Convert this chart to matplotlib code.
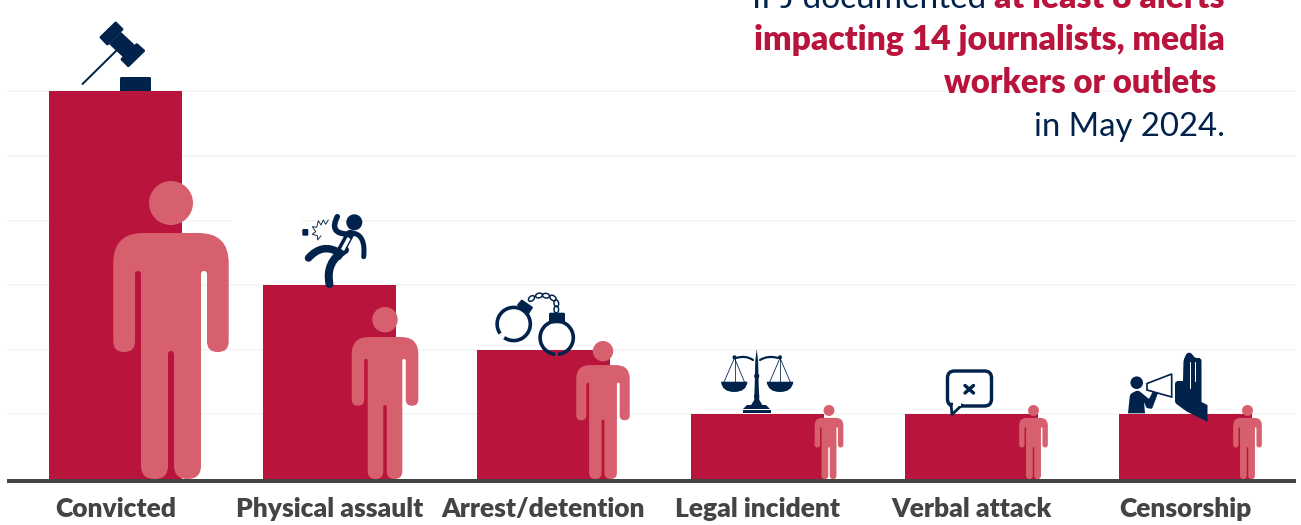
import matplotlib
matplotlib.use('Agg')
import numpy as np
import matplotlib.pyplot as plt
from matplotlib.path import Path
from matplotlib.patches import PathPatch, Circle, Rectangle, Ellipse, FancyBboxPatch, Arc, Polygon

categories = ['Convicted', 'Physical assault', 'Arrest/detention', 'Legal incident', 'Verbal attack', 'Censorship']
journalists = [6, 3, 2, 1, 1, 1]
# pictogram next to each bar: centre x and height in pixels
person_x = [171, 385, 603, 829, 1033.5, 1247.5]
person_h = [298, 172, 138, 74, 74, 74]

RED = '#b9143c'
PINK = '#d6606e'
NAVY = '#00224b'
GREY = '#444444'
W, H = 1301, 525
UNIT = 64.6  # px per journalist
BASE = 481  # centre of the axis line

plt.rcParams['font.family'] = ['Lato', 'DejaVu Sans']
fig = plt.figure(figsize=(W / 100, H / 100), dpi=100)

# bars on a real axis, scaled so that it lines up with the pixels
ax = fig.add_axes([7 / W, (H - BASE) / H, (1296 - 7) / W, BASE / H])
x = np.arange(len(categories))
ax.set_xlim((7 - 115.5) / 214, (1296 - 115.5) / 214)
ax.set_ylim(-2 / UNIT, (BASE - 2) / UNIT)
ax.bar(x, journalists, width=133 / 214, color=RED, zorder=2)
ax.set_yticks(range(1, 7))
ax.set_xticks(x)
ax.set_xticklabels(categories, fontsize=19, fontweight='heavy', color=GREY)
ax.tick_params(axis='x', length=0, pad=11.5)
ax.tick_params(axis='y', length=0, labelleft=False)
ax.grid(axis='y', color='#f6f6f6', linewidth=1.4, zorder=0)
ax.set_axisbelow(True)
for s in ['top', 'left', 'right']:
    ax.spines[s].set_visible(False)
ax.spines['bottom'].set_color(GREY)
ax.spines['bottom'].set_linewidth(4 * 0.72)
ax.spines['bottom'].set_capstyle('butt')

# overlay in pixel coordinates for the icons
ov = fig.add_axes([0, 0, 1, 1])
ov.set_xlim(0, W)
ov.set_ylim(H, 0)
ov.axis('off')
ov.patch.set_alpha(0)


def rounded_path(pts, r):
    # closed outline with corners rounded, radius per corner
    verts, codes = [], []
    n = len(pts)
    for i in range(n):
        p = np.array(pts[i], float)
        a = np.array(pts[i - 1], float)
        b = np.array(pts[(i + 1) % n], float)
        ra = r[i] if np.ndim(r) else r
        if ra == 0:
            verts.append(p)
            codes.append(Path.LINETO if i else Path.MOVETO)
            continue
        p1 = p + (a - p) / np.linalg.norm(a - p) * ra
        p2 = p + (b - p) / np.linalg.norm(b - p) * ra
        verts += [p1, p, p2]
        codes += [Path.LINETO if i else Path.MOVETO, Path.CURVE3, Path.CURVE3]
    verts.append(verts[0])
    codes.append(Path.CLOSEPOLY)
    return Path(verts, codes)


def blob(pts, r=0, color=NAVY, z=6):
    ov.add_patch(PathPatch(rounded_path(pts, r), fc=color, ec='none', zorder=z))


def stroke(pts, lw, color=NAVY, z=6):
    xs, ys = zip(*pts)
    ov.plot(xs, ys, color=color, lw=lw * 0.72, solid_capstyle='round', solid_joinstyle='round', zorder=z)


def curve(p0, c, p1, lw, color=NAVY, z=6):
    pth = Path([p0, c, p1], [Path.MOVETO, Path.CURVE3, Path.CURVE3])
    ov.add_patch(PathPatch(pth, fc='none', ec=color, lw=lw * 0.72, capstyle='round', zorder=z))


def person(cx, h):
    s = h / 298
    ov.add_patch(Circle((cx, 479 - 276 * s), 22 * s, fc=PINK, ec='none', zorder=5))
    out = [(-57.7, 246), (57.7, 246), (57.7, 127), (36, 127), (36, 208), (30, 208), (30, 0),
           (3, 0), (3, 128), (-3, 128), (-3, 0), (-30, 0), (-30, 208), (-36, 208), (-36, 127), (-57.7, 127)]
    rad = [30, 30, 10.5, 10.5, 2.9, 2.9, 13.4, 13.4, 2.9, 2.9, 13.4, 13.4, 2.9, 2.9, 10.5, 10.5]
    pts = [(cx + a * s, 479 - b * s) for a, b in out]
    blob(pts, [q * s for q in rad], color=PINK, z=5)


for cx, h in zip(person_x, person_h):
    person(cx, h)

# the person's white box cuts one grid line
ov.add_patch(Rectangle((232, 219), 70, 5, fc='white', ec='none', zorder=1))

# gavel
blob([(115.7, 21), (124, 29.3), (107.3, 46), (99, 37.3)], 1.5)
blob([(136.7, 42.7), (145.7, 50.7), (128.3, 67.7), (120, 59.3)], 1.5)
blob([(121, 32), (137, 47), (125, 59), (109, 44)], 0)
stroke([(117, 50), (82.5, 84)], 2)
blob([(120, 77), (151, 77), (151, 91), (120, 91)], [1.5, 1.5, 0, 0])

# falling man
ov.add_patch(Circle((354.3, 222.3), 8, fc=NAVY, ec='none', zorder=6))
curve((337.3, 216.7), (329, 233), (346, 234), 5.5)
curve((352, 233), (366, 234), (363.7, 256.7), 5)
stroke([(350, 234), (338, 256)], 8.5)
curve((338, 252), (322, 243), (308.5, 258), 7.5)
curve((345, 250), (325, 262), (329.5, 284), 8)
ov.add_patch(Polygon([(347.5, 237), (350.5, 239), (344, 251), (341, 249)], fc='white', ec='none', zorder=7))
stroke([(328.3, 220), (325.7, 224.3), (323.3, 220), (321, 225), (318.3, 220.7), (316.7, 227.3), (312.3, 226.7),
        (315.7, 231.7), (312.3, 234.3), (317.3, 235.7), (317.7, 240), (321, 235.7)], 0.9)
blob([(302.3, 229), (308.3, 229), (308.3, 235.7), (302.3, 235.7)], 1.2)

# handcuffs, angles measured with y pointing down
ov.add_patch(Arc((513.7, 324), 33.2, 33.2, theta1=145, theta2=125 + 360, color=NAVY, lw=3.6 * 0.72, zorder=6))
ov.add_patch(Arc((556.7, 337.7), 33.2, 33.2, theta1=95, theta2=85 + 360, color=NAVY, lw=3.6 * 0.72, zorder=6))
blob([(516.7, 305), (521.7, 299.3), (533.3, 307.3), (528.3, 315)], 1)
blob([(549, 312.7), (565, 312.7), (565, 323.3), (549, 323.3)], 1.5)
for cc, ang in [((531.5, 298.5), -40), ((539, 295.5), -15), ((546, 295.7), 10), ((553, 298), 35), ((556.3, 303.3), 80),
                ((556.3, 309.5), 90)]:
    ov.add_patch(Ellipse(cc, 7, 4.6, angle=ang, fc='none', ec=NAVY, lw=1.5 * 0.72, zorder=6))

# scales
blob([(755.3, 361), (756.7, 349), (758.1, 361), (758.7, 385), (759.3, 400), (763, 406), (750.5, 406), (754.2, 400), (754.7, 385)], 0)
ov.add_patch(Circle((756.7, 376), 2.6, fc=NAVY, ec='none', zorder=6))
ov.add_patch(Circle((756.7, 396), 2.6, fc=NAVY, ec='none', zorder=6))
blob([(747, 405), (766, 405), (770, 409), (743, 409)], 0)
blob([(743, 410), (771, 410), (771, 413), (743, 413)], 0)
curve((736, 358), (746, 355), (753, 360), 2.2)
curve((778, 358), (768, 355), (760, 360), 2.2)
for px, lx, rx in [(734.5, 721, 747.5), (780, 766.7, 793.3)]:
    ov.add_patch(Circle((px, 357.3), 2, fc=NAVY, ec='none', zorder=6))
    stroke([(lx + 3, 382), (px, 358), (rx - 3, 382)], 0.8)
    stroke([(px, 358), (px, 382)], 0.8)
    pan = Path([(lx, 381.7), (lx + 1, 392), ((lx + rx) / 2, 392), (rx - 1, 392), (rx, 381.7), (lx, 381.7)],
               [Path.MOVETO, Path.CURVE3, Path.CURVE3, Path.CURVE3, Path.CURVE3, Path.CLOSEPOLY])
    ov.add_patch(PathPatch(pan, fc=NAVY, ec='none', zorder=6))

# speech bubble
ov.add_patch(FancyBboxPatch((947.5, 371), 44, 35, boxstyle='round,pad=0,rounding_size=7', fc='white', ec=NAVY,
                            lw=3.4 * 0.72, zorder=6))
ov.add_patch(Polygon([(951, 404), (952, 414.5), (962, 405)], fc='white', ec=NAVY, lw=2.8 * 0.72, joinstyle='round', zorder=7))
ov.add_patch(Rectangle((953, 401), 7.5, 4.5, fc='white', ec='none', zorder=8))
stroke([(965, 385.5), (973.5, 393)], 3.4)
stroke([(973.5, 385.5), (965, 393)], 3.4)

# censorship: speaker, megaphone and raised hand
ov.add_patch(Circle((1136.7, 382.7), 6.3, fc=NAVY, ec='none', zorder=6))
blob([(1128, 413.3), (1130, 394), (1138, 390), (1149, 399), (1153, 391), (1158, 393), (1152, 409), (1146.5, 408),
      (1144, 402), (1145, 413.3)], [0, 2.5, 2.5, 1, 1, 1, 1.5, 1, 1, 0])
ov.add_patch(Polygon([(1147, 383.5), (1171.7, 374), (1171.7, 397), (1147, 390)], fc='white', ec=NAVY, lw=1.7 * 0.72, zorder=6))
hand = [(1175, 381), (1183, 381), (1183.5, 360), (1187, 352.7), (1191, 352.7), (1195, 358), (1201.5, 358), (1201.5, 402),
        (1207.5, 405), (1207.5, 421.7), (1187, 411.7), (1175, 403)]
blob(hand, [3.5, 0, 2.5, 2, 2, 2, 3, 0, 0, 0, 0, 2])
stroke([(1189.5, 362), (1189.5, 388)], 1.0, color='white', z=7)
stroke([(1195, 362), (1195, 381)], 1.0, color='white', z=7)

# headline, the first line is cut off by the top of the picture
t1 = ov.text(1225, 8, 'at least 8 alerts', fontsize=24.2, fontweight='heavy', color=RED, ha='right', va='baseline', zorder=7)
ov.annotate('IFJ documented ', xy=(0, 0), xycoords=t1, fontsize=24, color=NAVY, ha='right', va='bottom', zorder=7,
            annotation_clip=False)
ov.text(1225, 50, 'impacting 14 journalists, media', fontsize=24.2, fontweight='heavy', color=RED, ha='right',
        va='baseline', zorder=7)
ov.text(1216, 93, 'workers or outlets', fontsize=23.6, fontweight='heavy', color=RED, ha='right', va='baseline', zorder=7)
ov.text(1225, 136, 'in May 2024.', fontsize=23.7, color=NAVY, ha='right', va='baseline', zorder=7)

fig.savefig('out.png', dpi=100)
